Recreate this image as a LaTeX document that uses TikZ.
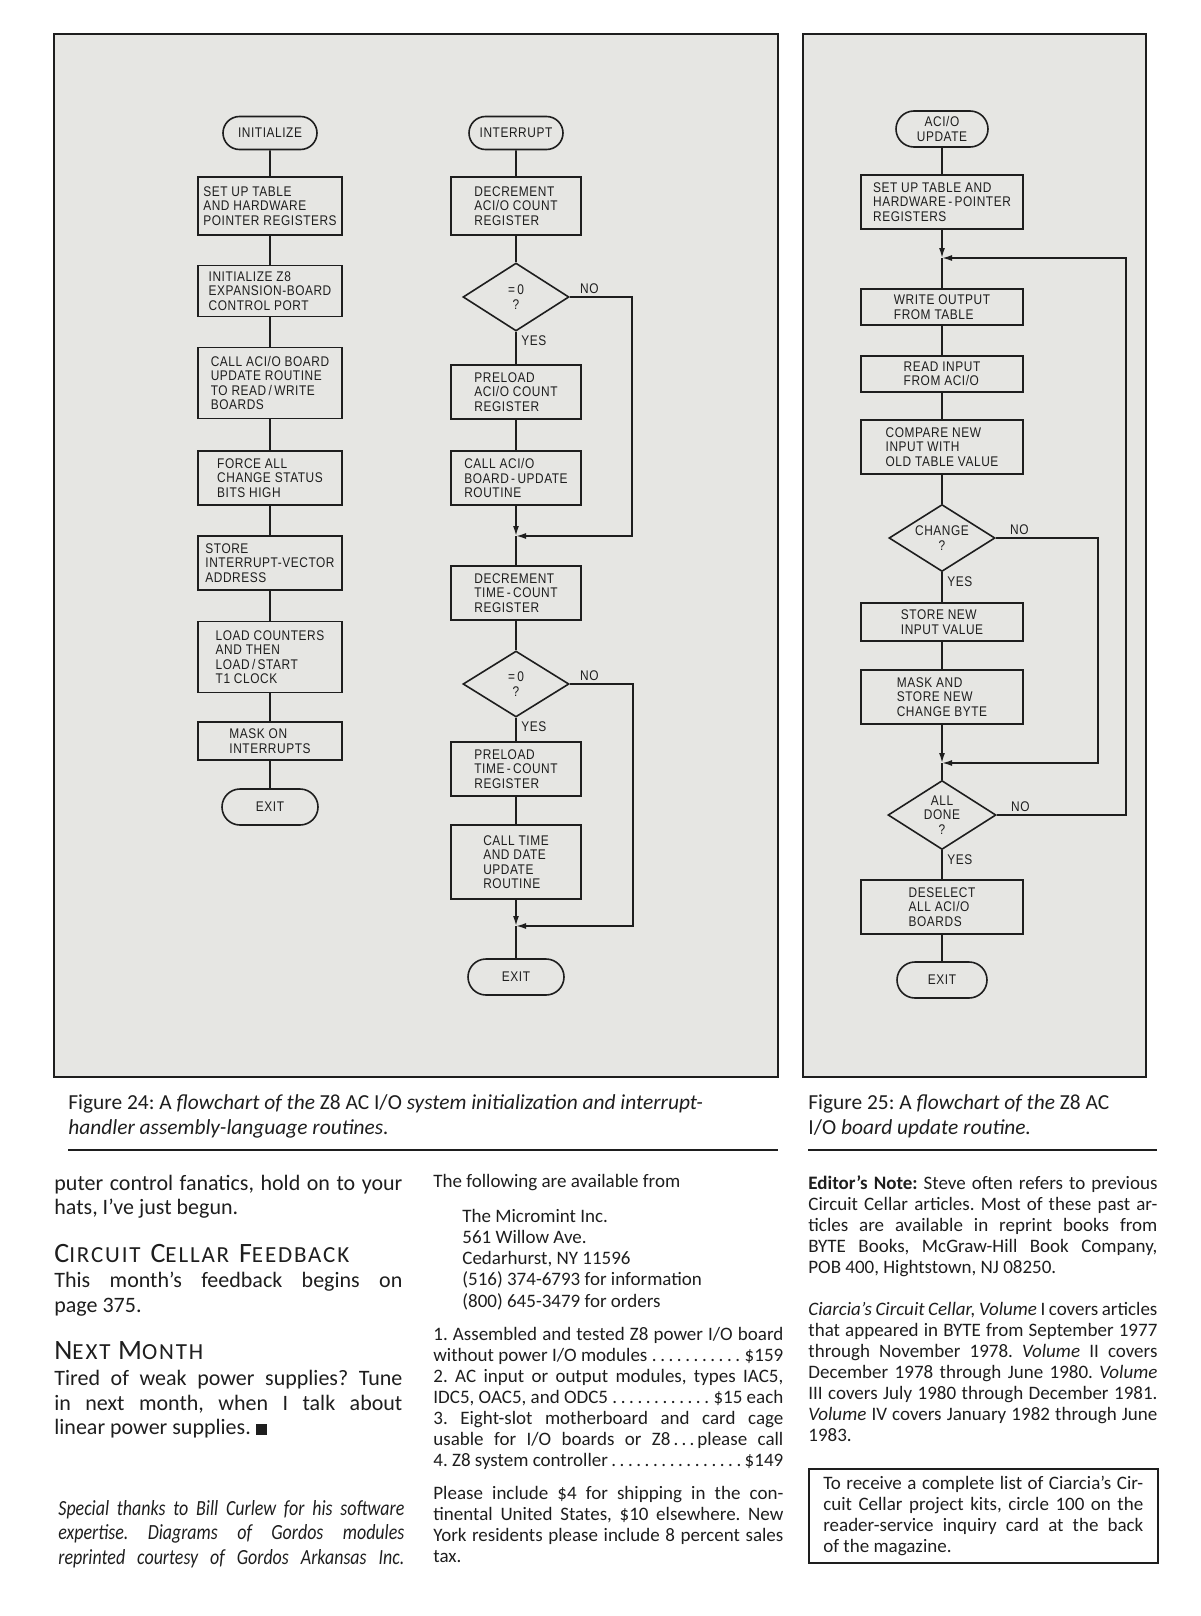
\documentclass[tikz,border=0pt]{standalone}
\usepackage{fontspec}
\setmainfont{Carlito}
\newfontfamily\flowfont[FakeStretch=0.85, LetterSpace=4]{Liberation Sans}
\usetikzlibrary{arrows.meta,positioning,shapes.geometric,shapes.misc}
\definecolor{ink}{HTML}{1E1E1E}
\definecolor{panel}{HTML}{E6E6E3}
\newcommand{\chartfont}{\flowfont\fontsize{7}{7.2}\selectfont}
\newcommand{\leadfont}{\fontsize{11}{12.25}\selectfont}
\newcommand{\colfont}{\fontsize{9.5}{10.55}\selectfont}
\newcommand{\capfont}{\fontsize{10.7}{12.4}\selectfont}
\newcommand{\capword}[2]{{\addfontfeature{LetterSpace=8}{\fontsize{14}{14}\selectfont #1}{\fontsize{11.5}{12}\selectfont #2}}}
\hyphenpenalty=10000
\tolerance=9999
\frenchspacing

\begin{document}
\begin{tikzpicture}[
  x=0.5pt, y=-0.5pt, >={Latex[length=5pt,width=3pt]},
  flow/.style={draw=ink, line width=0.8pt, text=ink, font=\chartfont},
  stepbox/.style={flow, rectangle, align=left, inner xsep=2pt, inner ysep=2pt, minimum width=#1},
  stepbox/.default=72pt,
  term/.style={flow, rounded rectangle, align=center, inner sep=1pt,
    minimum width=49pt, minimum height=16.5pt},
  test/.style={flow, diamond, aspect=1.6, align=center, inner sep=0.5pt,
    minimum width=53pt, minimum height=33pt},
  lbl/.style={text=ink, font=\chartfont, inner sep=1pt},
  wire/.style={draw=ink, line width=0.8pt},
  body/.style={anchor=north west, inner sep=0pt, align=justify, text=ink}
]
\useasboundingbox (0,0) rectangle (1200,1616);
\fill[white] (0,0) rectangle (1200,1616);
\filldraw[fill=panel, draw=ink, line width=0.9pt] (54,34) rectangle (778,1077);
\filldraw[fill=panel, draw=ink, line width=0.9pt] (803,34) rectangle (1146,1077);

% Figure 24, left chart
\node[term] (init) at (270,133) {INITIALIZE};
\node[stepbox, minimum height=29pt] (c1a) at (270,206) {SET UP TABLE\\AND HARDWARE\\POINTER REGISTERS};
\node[stepbox, minimum height=25.5pt] (c1b) at (270,291) {INITIALIZE Z8\\EXPANSION-BOARD\\CONTROL PORT};
\node[stepbox, minimum height=35.5pt] (c1c) at (270,383) {CALL ACI/O BOARD\\UPDATE ROUTINE\\TO READ\,/\,WRITE\\BOARDS};
\node[stepbox, minimum height=27pt] (c1d) at (270,478) {FORCE ALL\\CHANGE STATUS\\BITS HIGH};
\node[stepbox, minimum height=27pt] (c1e) at (270,563) {STORE\\INTERRUPT-VECTOR\\ADDRESS};
\node[stepbox, minimum height=35.5pt] (c1f) at (270,657) {LOAD COUNTERS\\AND THEN\\LOAD\,/\,START\\T1 CLOCK};
\node[stepbox, minimum height=19pt] (c1g) at (270,741) {MASK ON\\INTERRUPTS};
\node[term, minimum width=50pt, minimum height=18pt] (exit1) at (270,807) {EXIT};
\draw[wire] (init) -- (c1a);
\draw[wire] (c1a) -- (c1b);
\draw[wire] (c1b) -- (c1c);
\draw[wire] (c1c) -- (c1d);
\draw[wire] (c1d) -- (c1e);
\draw[wire] (c1e) -- (c1f);
\draw[wire] (c1f) -- (c1g);
\draw[wire] (c1g) -- (exit1);

% Figure 24, right chart
\node[term] (intr) at (516,133) {INTERRUPT};
\node[stepbox=65pt, minimum height=29pt] (c2a) at (516,206) {DECREMENT\\ACI/O COUNT\\REGISTER};
\node[test, minimum height=34pt] (d1) at (516,297) {=\,0\\?};
\node[stepbox=65pt, minimum height=27pt] (c2b) at (516,392) {PRELOAD\\ACI/O COUNT\\REGISTER};
\node[stepbox=65pt, minimum height=27pt] (c2c) at (516,478) {CALL ACI/O\\BOARD\,-\,UPDATE\\ROUTINE};
\coordinate (j1) at (516,536);
\coordinate (rt1) at (632,536);
\node[stepbox=65pt, minimum height=27pt] (c2d) at (516,593) {DECREMENT\\TIME\,-\,COUNT\\REGISTER};
\node[test, minimum height=33pt] (d2) at (516,684) {=\,0\\?};
\node[stepbox=65pt, minimum height=27pt] (c2e) at (516,769) {PRELOAD\\TIME\,-\,COUNT\\REGISTER};
\node[stepbox=65pt, minimum height=37pt] (c2f) at (516,862) {CALL TIME\\AND DATE\\UPDATE\\ROUTINE};
\coordinate (j2) at (516,926);
\coordinate (rt2) at (633,926);
\node[term, minimum width=50pt, minimum height=18pt] (exit2) at (516,977) {EXIT};
\node[lbl, above right=0.5pt and 4pt of d1.east] (no1) {NO};
\node[lbl, below right=1pt and 1.5pt of d1.south] (yes1) {YES};
\node[lbl, above right=0.5pt and 4pt of d2.east] (no2) {NO};
\node[lbl, below right=1pt and 1.5pt of d2.south] (yes2) {YES};
\draw[wire] (intr) -- (c2a);
\draw[wire] (c2a) -- (d1);
\draw[wire] (d1) -- (c2b);
\draw[wire] (c2b) -- (c2c);
\draw[wire, ->] (c2c) -- (j1);
\draw[wire, ->] (d1.east) -| (rt1) -- (j1);
\draw[wire] (j1) -- (c2d);
\draw[wire] (c2d) -- (d2);
\draw[wire] (d2) -- (c2e);
\draw[wire] (c2e) -- (c2f);
\draw[wire, ->] (c2f) -- (j2);
\draw[wire, ->] (d2.east) -| (rt2) -- (j2);
\draw[wire] (j2) -- (exit2);

% Figure 25
\node[term, minimum width=48pt, minimum height=18pt] (upd) at (942,129) {ACI/O\\UPDATE};
\node[stepbox=81pt, minimum height=27pt] (c3a) at (942,202) {SET UP TABLE AND\\HARDWARE\,-\,POINTER\\REGISTERS};
\coordinate (j0) at (942,258);
\coordinate (rt4) at (1126,258);
\node[stepbox=81pt, minimum height=18pt] (c3b) at (942,307) {WRITE OUTPUT\\FROM TABLE};
\node[stepbox=81pt, minimum height=18pt] (c3c) at (942,374) {READ INPUT\\FROM ACI/O};
\node[stepbox=81pt, minimum height=27pt] (c3d) at (942,447) {COMPARE NEW\\INPUT WITH\\OLD TABLE VALUE};
\node[test, minimum height=33.5pt] (d3) at (942,538) {CHANGE\\?};
\node[stepbox=81pt, minimum height=19pt] (c3e) at (942,622) {STORE NEW\\INPUT VALUE};
\node[stepbox=81pt, minimum height=27pt] (c3f) at (942,697) {MASK AND\\STORE NEW\\CHANGE BYTE};
\coordinate (j3) at (942,763);
\coordinate (rt3) at (1098,763);
\node[test, minimum width=54pt, minimum height=34.5pt] (d4) at (942,815) {ALL\\DONE\\?};
\node[stepbox=81pt, minimum height=27pt] (c3g) at (942,907) {DESELECT\\ALL ACI/O\\BOARDS};
\node[term, minimum width=47pt, minimum height=18pt] (exit3) at (942,980) {EXIT};
\node[lbl, above right=0.5pt and 6pt of d3.east] (no3) {NO};
\node[lbl, below right=1pt and 1.5pt of d3.south] (yes3) {YES};
\node[lbl, above right=0.5pt and 6pt of d4.east] (no4) {NO};
\node[lbl, below right=1pt and 1.5pt of d4.south] (yes4) {YES};
\draw[wire] (upd) -- (c3a);
\draw[wire, ->] (c3a) -- (j0);
\draw[wire, ->] (d4.east) -| (rt4) -- (j0);
\draw[wire] (j0) -- (c3b);
\draw[wire] (c3b) -- (c3c);
\draw[wire] (c3c) -- (c3d);
\draw[wire] (c3d) -- (d3);
\draw[wire] (d3) -- (c3e);
\draw[wire] (c3e) -- (c3f);
\draw[wire, ->] (c3f) -- (j3);
\draw[wire, ->] (d3.east) -| (rt3) -- (j3);
\draw[wire] (j3) -- (d4);
\draw[wire] (d4) -- (c3g);
\draw[wire] (c3g) -- (exit3);

% captions and rules
\node[body, align=left, font=\capfont] (cap24) at (68,1094)
  {Figure 24: A \textit{flowchart of the} Z8 AC I/O \textit{system initialization and interrupt-}\\
   \textit{handler assembly-language routines.}};
\node[body, align=left, font=\capfont] (cap25) at (808,1094)
  {Figure 25: A \textit{flowchart of the} Z8 AC\\I/O \textit{board update routine.}};
\draw[ink, line width=1pt] (68,1149.5) -- (778,1149.5);
\draw[ink, line width=1pt] (808,1149.5) -- (1157,1149.5);

% first column
\node[body, text width=174pt, font=\leadfont] (ending) at (54,1174.5)
  {puter control fanatics, hold on to your\linebreak hats, I've just begun.};
\node[body, font=\leadfont] (fbhead) at (54,1244)
  {\capword{C}{IRCUIT}\hspace{0.45em}\capword{C}{ELLAR}\hspace{0.45em}\capword{F}{EEDBACK}};
\node[body, text width=174pt, font=\leadfont] (fbtext) at (54,1272)
  {This month's feedback begins on\linebreak page 375.};
\node[body, font=\leadfont] (nmhead) at (54,1341)
  {\capword{N}{EXT}\hspace{0.35em}\capword{M}{ONTH}};
\node[body, text width=174pt, font=\leadfont] (nmtext) at (54,1370)
  {Tired of weak power supplies? Tune\linebreak in next month, when I talk about\linebreak linear power supplies. \rule{0.5em}{0.5em}};
\node[body, text width=173pt, font=\fontsize{10.8}{12.25}\selectfont] (thanks) at (58,1500)
  {\itshape\addfontfeature{FakeStretch=0.83}Special thanks to Bill Curlew for his software\linebreak expertise. Diagrams of Gordos modules\linebreak \makebox[\linewidth][s]{reprinted courtesy of Gordos Arkansas Inc.}};

% second column
\node[body, text width=175pt, font=\colfont] (avail) at (433,1174)
  {The following are available from};
\node[body, align=left, font=\colfont] (addr) at (462,1209)
  {The Micromint Inc.\\561 Willow Ave.\\Cedarhurst, NY 11596\\(516) 374-6793 for information\\(800) 645-3479 for orders};
\node[body, text width=175pt, font=\colfont] (items) at (433,1326.5)
  {1. Assembled and tested Z8 power I/O board\linebreak
   without power I/O modules\dotfill\$159\linebreak
   2. AC input or output modules, types IAC5,\linebreak
   IDC5, OAC5, and ODC5\dotfill\$15 each\linebreak
   3. Eight-slot motherboard and card cage\linebreak
   usable for I/O boards or Z8\,.\,.\,.\,please call\linebreak
   4. Z8 system controller\dotfill\$149};
\node[body, text width=175pt, font=\colfont] (ship) at (433,1485.5)
  {Please include \$4 for shipping in the con-\linebreak tinental United States, \$10 elsewhere. New\linebreak York residents please include 8 percent sales\linebreak tax.};

% third column
\node[body, text width=174.5pt, font=\colfont] (note) at (808,1175)
  {\textbf{Editor's Note:} Steve often refers to previous\linebreak Circuit Cellar articles. Most of these past ar-\linebreak ticles are available in reprint books from\linebreak BYTE Books, McGraw-Hill Book Company,\linebreak POB 400, Hightstown, NJ 08250.};
\node[body, text width=174.5pt, font=\colfont] (vols) at (808,1301.5)
  {\textit{Ciarcia's Circuit Cellar, Volume} I covers articles\linebreak that appeared in BYTE from September 1977\linebreak through November 1978. \textit{Volume} II covers\linebreak December 1978 through June 1980. \textit{Volume}\linebreak III covers July 1980 through December 1981.\linebreak \textit{Volume} IV covers January 1982 through June\linebreak 1983.};
\node[body, draw=ink, line width=0.8pt, text width=160pt, inner xsep=7.25pt, inner ysep=0pt,
  minimum height=47pt, font=\colfont] (kits) at (808,1468)
  {To receive a complete list of Ciarcia's Cir-\linebreak cuit Cellar project kits, circle 100 on the\linebreak reader-service inquiry card at the back\linebreak of the magazine.};
\end{tikzpicture}
\end{document}
